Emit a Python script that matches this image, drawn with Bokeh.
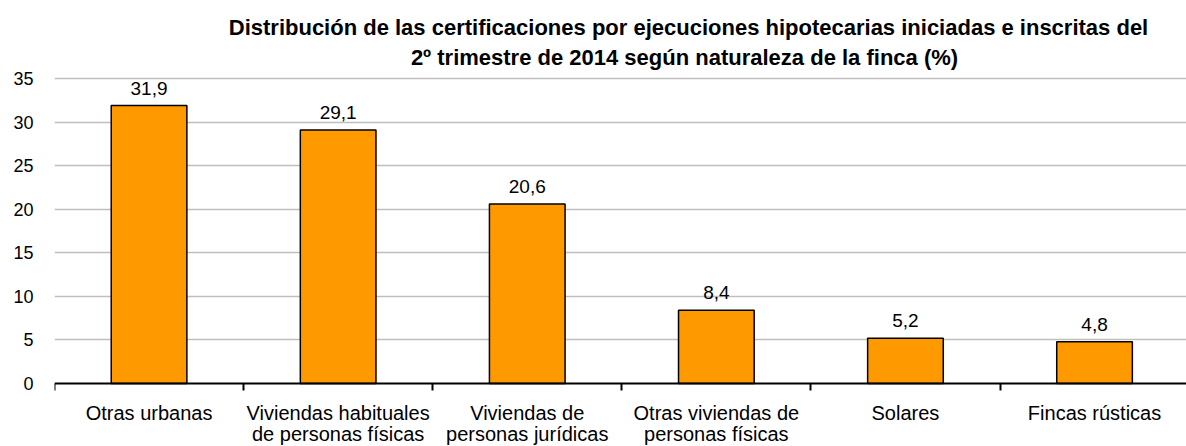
from bokeh.plotting import figure
from bokeh.models import (Range1d, FixedTicker, LinearAxis, ColumnDataSource,
                          LabelSet, Label, Grid)
from bokeh.core.properties import value
from bokeh.embed import file_html
from bokeh.resources import INLINE

# ---- data ----
categories = [
    "Otras urbanas",
    "Viviendas habituales\nde personas físicas",
    "Viviendas de\npersonas jurídicas",
    "Otras viviendas de\npersonas físicas",
    "Solares",
    "Fincas rústicas",
]
values = [31.9, 29.1, 20.6, 8.4, 5.2, 4.8]
value_labels = ["31,9", "29,1", "20,6", "8,4", "5,2", "4,8"]
y_ticks = [0, 5, 10, 15, 20, 25, 30, 35]
title_lines = [
    "Distribución de las certificaciones por ejecuciones hipotecarias iniciadas e inscritas del",
    "2º trimestre de 2014 según naturaleza de la finca (%)",
]

FONT = "Liberation Sans"

n = len(categories)
centers = [i + 0.5 for i in range(n)]
bounds = list(range(n + 1))
cat_line1 = [c.split("\n")[0] for c in categories]
cat_line2 = [c.split("\n")[1] if "\n" in c else "" for c in categories]

W, H = 1186, 446
FRAME_LEFT = 54
CAT_PX = 189.1                       # pixel width of one category slot
Y_TOP_PX, Y_ZERO_PX = 78, 383        # pixel rows of value 35 and value 0
px_per_unit = (Y_ZERO_PX - Y_TOP_PX) / y_ticks[-1]
y_start = -(H - Y_ZERO_PX) / px_per_unit
y_end = Y_ZERO_PX / px_per_unit
x_end = (W - FRAME_LEFT) / CAT_PX

p = figure(width=W, height=H,
           x_range=Range1d(0, x_end), y_range=Range1d(y_start, y_end),
           x_axis_type=None, y_axis_type=None,
           output_backend="svg", toolbar_location=None,
           min_border_left=FRAME_LEFT, min_border_right=0,
           min_border_top=0, min_border_bottom=0)
p.outline_line_color = None
p.background_fill_color = "white"
p.border_fill_color = "white"

# gridlines
p.add_layout(Grid(dimension=1, ticker=FixedTicker(ticks=y_ticks[1:]),
                  grid_line_color="#bfbfbf", grid_line_width=1.5))

# y axis
yaxis = LinearAxis(ticker=FixedTicker(ticks=y_ticks))
yaxis.axis_line_color = None
yaxis.major_tick_line_color = None
yaxis.minor_tick_line_color = None
yaxis.major_tick_out = 0
yaxis.major_tick_in = 0
yaxis.major_label_standoff = 21
yaxis.major_label_text_font = FONT
yaxis.major_label_text_font_size = "18px"
yaxis.major_label_text_color = "black"
p.add_layout(yaxis, "left")

# x axis at value 0, ticks at category boundaries
xaxis = LinearAxis(ticker=FixedTicker(ticks=[], minor_ticks=bounds))
xaxis.fixed_location = 0
xaxis.axis_line_color = "black"
xaxis.axis_line_width = 2
xaxis.major_tick_line_color = None
xaxis.minor_tick_line_color = "black"
xaxis.minor_tick_line_width = 2
xaxis.minor_tick_out = 7
xaxis.minor_tick_in = 0
xaxis.major_label_text_font_size = "0px"
p.add_layout(xaxis, "below")

src = ColumnDataSource(dict(x=centers, top=values, lab=value_labels,
                            cat1=cat_line1, cat2=cat_line2, zero=[0] * n))

p.vbar(x="x", top="top", bottom=0, width=0.40, source=src,
       fill_color="#ff9900", line_color="black", line_width=1.5)

p.add_layout(LabelSet(x="x", y="top", text="lab", source=src,
                      text_align="center", text_baseline="alphabetic",
                      y_offset=11, text_font=value(FONT), text_font_size="19px",
                      text_color="black"))

# category labels, each line centred under its slot
for col, off in (("cat1", -18), ("cat2", -39)):
    p.add_layout(LabelSet(x="x", y="zero", text=col, source=src,
                          text_align="center", text_baseline="top",
                          y_offset=off, text_font=value(FONT), text_font_size="20px",
                          text_color="black"))

# title lines: (centre column, baseline row) in pixels
for txt, col, row in zip(title_lines, [688, 684], [27.3, 56.5]):
    p.add_layout(Label(x=(col - FRAME_LEFT) / CAT_PX, y=(Y_ZERO_PX - row) / px_per_unit,
                       text=txt, text_align="center", text_baseline="alphabetic",
                       text_font=FONT, text_font_size="22px",
                       text_font_style="bold", text_color="black"))

open("out.html", "w").write(file_html(p, INLINE))
